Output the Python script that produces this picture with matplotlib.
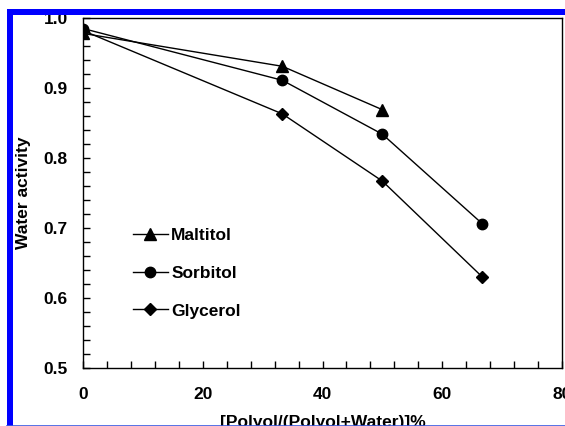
import matplotlib
matplotlib.use("Agg")
import matplotlib.pyplot as plt
from matplotlib.patches import Rectangle
from matplotlib.lines import Line2D
from matplotlib.ticker import MultipleLocator, FormatStrFormatter

plt.rcParams['font.family'] = ['Liberation Sans', 'DejaVu Sans']
plt.rcParams['font.weight'] = 'bold'

# polyol fraction (%) and water activity
x_maltitol = [0, 33.3, 50]
aw_maltitol = [0.978, 0.931, 0.869]

x_sorbitol = [0, 33.3, 50, 66.7]
aw_sorbitol = [0.985, 0.911, 0.834, 0.706]

x_glycerol = [0, 33.3, 50, 66.7]
aw_glycerol = [0.982, 0.863, 0.767, 0.630]

W, H = 565, 426
fig = plt.figure(figsize=(W / 100, H / 100), dpi=100)
fig.patch.set_facecolor('white')

# axes box in pixels: left 83, right 562, top 18, bottom 368
ax = fig.add_axes([83 / W, 1 - 368 / H, (562 - 83) / W, (368 - 18) / H])

ax.plot(x_maltitol, aw_maltitol, color='black', lw=1.0, marker='^', ms=9,
        label='Maltitol')
ax.plot(x_sorbitol, aw_sorbitol, color='black', lw=1.0, marker='o', ms=7.5,
        label='Sorbitol')
ax.plot(x_glycerol, aw_glycerol, color='black', lw=1.0, marker='D', ms=6.5,
        label='Glycerol')

ax.set_xlim(0, 80)
ax.set_ylim(0.5, 1.0)
ax.xaxis.set_major_locator(MultipleLocator(20))
ax.xaxis.set_minor_locator(MultipleLocator(4))
ax.yaxis.set_major_locator(MultipleLocator(0.1))
ax.yaxis.set_minor_locator(MultipleLocator(0.02))
ax.yaxis.set_major_formatter(FormatStrFormatter('%.1f'))

ax.tick_params(which='both', direction='in', length=5, width=1,
               top=False, right=False)
ax.tick_params(axis='x', which='major', pad=14, labelsize=12.5)
ax.tick_params(axis='y', which='major', pad=11, labelsize=12.5)
for s in ax.spines.values():
    s.set_linewidth(1.0)

ax.set_xlabel('[Polyol/(Polyol+Water)]%', fontsize=12.5, fontweight='bold',
              labelpad=9)
ax.set_ylabel('Water activity', fontsize=12.5, fontweight='bold', labelpad=9)

leg = ax.legend(loc='upper left', bbox_to_anchor=(0.09, 0.42), frameon=False,
                fontsize=12.5, handlelength=2.0, handletextpad=0.2,
                labelspacing=1.3, borderaxespad=0)

# blue frame around the figure
fig.add_artist(Rectangle((7 / W, 0), 6 / W, 1 - 9 / H, transform=fig.transFigure,
                         color='#0000ff', lw=0))
fig.add_artist(Rectangle((7 / W, 1 - 15 / H), 1, 6 / H, transform=fig.transFigure,
                         color='#0000ff', lw=0))
fig.add_artist(Line2D([7 / W, 1], [0.5 / H, 0.5 / H], transform=fig.transFigure,
                      color='#3a5ae0', lw=1.2))

fig.savefig('out.png', dpi=100)
